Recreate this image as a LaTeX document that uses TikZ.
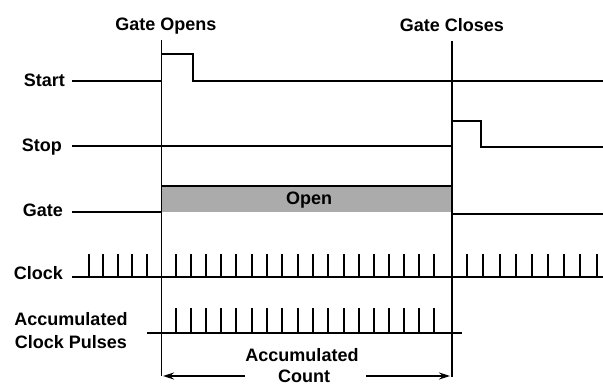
\documentclass[tikz,border=0pt]{standalone}
\usepackage{fontspec}
\setmainfont{Liberation Sans}
\usetikzlibrary{arrows.meta}
\begin{document}
\begin{tikzpicture}[x=1pt,y=-1pt,
  lbl/.style={font=\bfseries\fontsize{18}{22}\selectfont, inner sep=0pt},
  sig/.style={line width=1.3pt, line join=miter},
  gline/.style={line width=1.4pt},
  tickln/.style={line width=1.6pt},
  dimarrow/.style={line width=1.3pt, -{Stealth[length=11pt,width=7pt]}},
  openfill/.style={fill=black!33}]
\useasboundingbox (0,0) rectangle (603,385);
% titles
\node[lbl, anchor=base] (gopen) at (166,31) {Gate Opens};
\node[lbl, anchor=base] (gclose) at (452,32) {Gate Closes};
% row labels
\node[lbl, anchor=base east] (lstart) at (65,87) {Start};
\node[lbl, anchor=base east] (lstop) at (62,152) {Stop};
\node[lbl, anchor=base east] (lgate) at (63,217) {Gate};
\node[lbl, anchor=base east] (lclock) at (63,279) {Clock};
\node[lbl, anchor=base] (lacc1) at (71,325) {Accumulated};
\node[lbl, anchor=base] (lacc2) at (71,348) {Clock Pulses};
% coordinates
\coordinate (o1) at (161.5,40);
\coordinate (o2) at (161.5,376);
\coordinate (c1) at (452,41);
\coordinate (c2) at (452,377);
\coordinate (la) at (245,376);
\coordinate (lb) at (163,376);
\coordinate (ra) at (366,376);
\coordinate (rb) at (450,376);
% gate open fill
\fill[openfill] (161.5,186) rectangle (452,212);
\node[lbl, anchor=base] (lopen) at (309,205) {Open};
% waveforms
\draw[sig] (72,81) -- (161.5,81) -- (161.5,54) -- (193,54) -- (193,81) -- (603,81);
\draw[sig] (72,146) -- (452,146) -- (452,121) -- (481,121) -- (481,147) -- (603,147);
\draw[sig] (72,212) -- (161.5,212) -- (161.5,186) -- (452,186) -- (452,214) -- (603,214);
\draw[line width=1.8pt] (161.5,186) -- (452,186);
% clock
\draw[sig] (72,277) -- (603,277);
\foreach \x in {89,103,118,132,147,176,191,206,221,236,252,267,282,298,313,328,344,359,374,389,404,419,434,467,483,500,516,532,548,564,580,597}
  \draw[tickln] (\x,254) -- (\x,277);
% accumulated
\draw[sig] (147,333) -- (462,333);
\foreach \x in {176,191,206,221,236,252,267,282,298,313,328,344,359,374,389,404,419,434}
  \draw[tickln] (\x,308) -- (\x,333);
% gate lines
\draw[gline] (o1) -- (o2);
\draw[gline] (c1) -- (c2);
% accumulated count
\node[lbl, anchor=base] (acc) at (302,361) {Accumulated};
\node[lbl, anchor=base] (cnt) at (304,382) {Count};
\draw[dimarrow] (la) -- (lb);
\draw[dimarrow] (ra) -- (rb);
\end{tikzpicture}
\end{document}
